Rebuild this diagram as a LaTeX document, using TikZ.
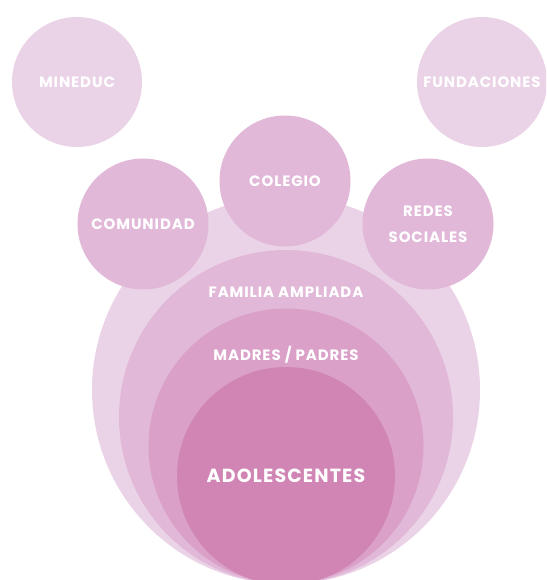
\documentclass[tikz,border=0pt]{standalone}
\usepackage{fontspec}
\newfontfamily\rotulo[LetterSpace=6]{Poppins}
\usetikzlibrary{positioning}
\definecolor{rosaA}{HTML}{EBD3E7}
\definecolor{rosaB}{HTML}{E1B8D8}
\definecolor{rosaC}{HTML}{DAA0C8}
\definecolor{rosaD}{HTML}{D085B5}

\begin{document}
\begin{tikzpicture}[
x=1pt, y=-1pt,
circ/.style={circle, inner sep=0pt, outer sep=0pt, text=white, align=center, font=\rotulo\bfseries\fontsize{15}{26}\selectfont},
lbl/.style={text=white, inner sep=0pt, font=\rotulo\bfseries\fontsize{15}{18}\selectfont}
]
\useasboundingbox (0,0) rectangle (546,580);
\clip (0,0) rectangle (546,580);

% Entorno exterior
\node[circ, fill=rosaA, minimum size=388pt] (entorno) at (286,390) {};

% Actores externos
\node[circ, fill=rosaA, minimum size=130pt] (mineduc) at (77,82) {MINEDUC};
\node[circ, fill=rosaA, minimum size=130pt] (fundaciones) at (482,82) {FUNDACIONES};
\node[circ, fill=rosaB, minimum size=131pt] (comunidad) at (143,224) {COMUNIDAD};
\node[circ, fill=rosaB, minimum size=131pt] (colegio) at (285,181) {COLEGIO};
\node[circ, fill=rosaB, minimum size=131pt] (redes) at (428,224) {REDES\\SOCIALES};

% Circulos concentricos
\node[circ, fill=rosaB, minimum size=334pt] (familia) at (286,417) {};
\node[circ, fill=rosaC, minimum size=275pt] (madres) at (286,446) {};
\node[circ, fill=rosaD, minimum size=218pt, font=\rotulo\bfseries\fontsize{19}{22}\selectfont] (adolescentes) at (286,476) {ADOLESCENTES};

% Rotulos
\node[lbl, below=37pt of familia.north] (rotfamilia) {FAMILIA AMPLIADA};
\node[lbl, below=38pt of madres.north] (rotmadres) {MADRES / PADRES};

\end{tikzpicture}
\end{document}
